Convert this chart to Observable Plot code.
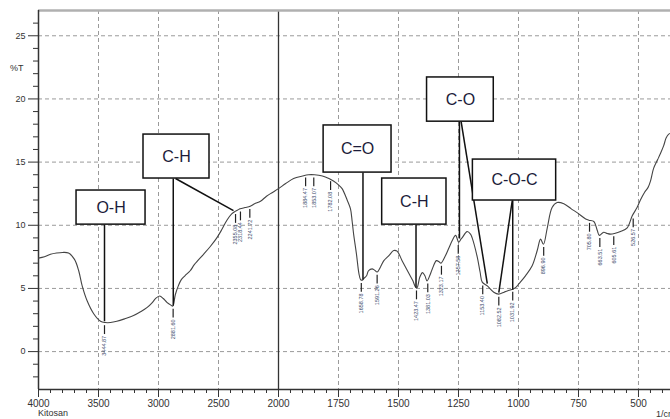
<!DOCTYPE html>
<html><head><meta charset="utf-8">
<script src="https://cdn.jsdelivr.net/npm/d3@7"></script>
<script src="https://cdn.jsdelivr.net/npm/@observablehq/plot@0.6"></script>
<style>
body{margin:0;background:#fff;font-family:"Liberation Sans",Arial,sans-serif;}
#chart{position:relative;width:670px;height:419px;overflow:hidden;}
#chart svg{overflow:hidden;}
.lbl{position:absolute;font-size:9px;color:#333;}
</style>
</head><body><div id="chart"></div>
<script>
// Spectrum: wavenumber (1/cm) and transmittance (%T)
const wavenumber = [4000,3950,3900,3850,3800,3750,3700,3665,3636,3594,3540,3483,3444,3400,3347,3280,3208,3150,3094,3050,3025,2990,2960,2930,2900,2881,2860,2835,2810,2780,2736,2700,2625,2570,2514,2470,2430,2390,2361,2340,2320,2280,2236,2200,2150,2100,2050,2000,1970,1937,1900,1875,1850,1817,1790,1771,1750,1735,1714,1700,1693,1687,1675,1665,1658,1651,1644,1633,1625,1610,1600,1589,1575,1561,1540,1520,1506,1485,1457,1440,1429,1423,1411,1400,1390,1381,1370,1360,1342,1330,1323,1304,1290,1276,1262,1249,1240,1235,1214,1200,1193,1172,1160,1151,1130,1103,1083,1060,1047,1031,1022,1010,999,971,943,922,908,896,880,860,839,811,780,756,720,707,686,672,663,645,630,617,600,575,547,526,506,492,475,460,450,437,420,408,395,385,375,362];
const transmittance = [7.4,7.5,7.7,7.8,7.85,7.8,7.3,6.4,5.2,4.0,3.0,2.4,2.3,2.3,2.4,2.6,2.85,3.15,3.5,3.9,4.2,4.4,4.2,3.9,3.7,3.6,4.5,5.2,5.7,6.0,6.4,6.9,7.7,8.3,9.0,9.7,10.4,10.9,11.1,11.2,11.3,11.4,11.5,11.7,11.9,12.3,12.6,12.9,13.3,13.7,13.9,14.0,14.0,13.9,13.7,13.5,13.2,12.9,12.0,11.3,10.3,9.3,7.7,6.2,5.7,5.65,5.8,6.0,6.4,6.55,6.45,6.3,6.7,7.2,7.6,8.0,7.95,7.2,6.2,5.6,5.1,5.05,5.9,6.25,6.0,5.6,6.0,6.5,7.2,7.1,7.0,7.6,8.2,8.8,9.2,8.65,8.9,9.0,9.5,9.3,9.0,7.5,6.3,5.5,5.2,4.7,4.55,4.7,4.8,4.9,4.95,5.1,5.35,6.0,6.8,8.0,8.9,8.5,9.8,11.4,11.8,11.7,11.3,11.0,10.5,10.4,10.3,9.6,9.2,9.45,9.35,9.3,9.35,9.5,9.8,10.75,11.4,12.0,12.6,13.0,13.5,14.5,15.2,15.7,16.3,16.9,17.2,17.3];

// Peak labels
const peakWn    = [3450,2878,2358,2317,2239,1887,1853,1783,1655,1589,1425,1378,1321,1251,1149,1082,1024,895,704,661,603,522];
const peakT     = [2.3,3.6,11.1,11.3,11.5,14.0,14.0,13.7,5.65,6.3,5.05,5.6,7.0,8.65,5.45,4.55,4.95,8.5,10.4,9.2,9.35,10.75];
const peakText  = ["3444.87","2881.60","2355.08","2318.44","2241.72","1884.47","1853.07","1782.08","1658.78","1591.26","1423.47","1381.03","1323.17","1257.58","1153.40","1082.52","1031.92","896.90","705.80","663.51","605.61","526.57"];

// Functional group boxes
const groupName = ["O-H","C-H","C=O","C-H","C-O","C-O-C"];
const boxWn1 = [3683,3125,1812,1568,1381,1190];
const boxWn2 = [3108,2575,1529,1300,1103,843];
const boxT1  = [12.75,17.18,17.9,13.7,21.7,15.2];
const boxT2  = [10.05,13.7,14.17,10.05,18.2,11.96];

// Leader lines from boxes to bands
const leadWn1 = [3450,2877,2858,1648,1427,1246,1239,1024,1026];
const leadT1  = [10.05,13.7,13.7,14.17,10.05,18.2,18.2,11.96,11.96];
const leadWn2 = [3450,2877,2375,1648,1427,1246,1130,1024,1082];
const leadT2  = [2.4,3.64,11.16,5.7,5.07,8.95,5.38,4.9,4.67];

// Axis ticks
const xMajor = [4000,3500,3000,2500,2000,1750,1500,1250,1000,750,500];
const xMinor = [3900,3800,3700,3600,3400,3300,3200,3100,2900,2800,2700,2600,2400,2300,2200,2100,1950,1900,1850,1800,1700,1650,1600,1550,1450,1400,1350,1300,1200,1150,1100,1050,950,900,850,800,700,650,600,550,450,400];
const xGrid = [3500,3000,2500,1750,1500,1250,1000,750,500];
const yMajor = [0,5,10,15,20,25];
const yMinor = [-2,-1,1,2,3,4,6,7,8,9,11,12,13,14,16,17,18,19,21,22,23,24,26];

// Spectrometer's split abscissa: 2x expansion below 2000 1/cm (piecewise linear d3 scale)
const split = d3.scaleLinear().domain([4000, 2000, 362]).range([0, 240, 633.1]);
const X = w => split(w);

const spectrum = wavenumber.map((w,i)=>({wn:w, t:transmittance[i]}));
const peaks = peakWn.map((w,i)=>({wn:w, t:peakT[i], label:peakText[i]}));
const boxes = groupName.map((n,i)=>({name:n, x1:boxWn1[i], x2:boxWn2[i], y1:boxT1[i], y2:boxT2[i]}));
const leads = leadWn1.map((w,i)=>({x1:w, y1:leadT1[i], x2:leadWn2[i], y2:leadT2[i]}));

const majorLabel = new Map(xMajor.map(w => [X(w), String(w)]));
const chart = Plot.plot({
  width: 670, height: 419,
  marginLeft: 38, marginRight: 0, marginTop: 10, marginBottom: 30,
  style: {fontFamily: "'Liberation Sans', Arial, sans-serif", background: "#fff", color: "#333"},
  x: {domain: [0, 633.1], range: [38, 671.1]},
  y: {domain: [-3, 27]},
  marks: [
    Plot.gridX({ticks: xGrid.map(X), stroke: "#9a9a9a", strokeOpacity: 1, strokeDasharray: "4,3"}),
    Plot.gridY({ticks: yMajor, stroke: "#9a9a9a", strokeOpacity: 1, strokeDasharray: "4,3"}),
    Plot.ruleX([X(2000)], {stroke: "#333", strokeWidth: 1.3}),
    Plot.ruleY([27], {stroke: "#b0b0b0", strokeWidth: 2.5}),
    Plot.ruleX([X(4000)], {stroke: "#333", strokeWidth: 1.5}),
    Plot.ruleY([-3], {stroke: "#333", strokeWidth: 1.5}),
    Plot.axisX({ticks: xMajor.map(X), tickSize: 8, tickPadding: 2, tickFormat: v => majorLabel.get(v) ?? "", fontSize: 10, stroke: "#333", fill: "#333", label: null}),
    Plot.axisX({ticks: xMinor.map(X), tickSize: 4, fill: "none", stroke: "#333", label: null}),
    Plot.axisY({ticks: yMajor, tickSize: 10, tickPadding: 3, tickFormat: v => String(v), fontSize: 9, stroke: "#333", fill: "#333", label: null}),
    Plot.axisY({ticks: yMinor, tickSize: 5, fill: "none", stroke: "#333", label: null}),
    Plot.line(spectrum, {x: d => X(d.wn), y: "t", curve: "catmull-rom", stroke: "#444", strokeWidth: 1.1}),
    Plot.ruleX(peaks, {x: d => X(d.wn), y1: d => d.t - 0.25, y2: d => d.t - 0.95, stroke: "#222", strokeWidth: 1.2}),
    Plot.text(peaks, {x: d => X(d.wn), y: d => d.t - 1.05, text: "label", rotate: -90, textAnchor: "end", fontSize: 5.5, fill: "#3a4a6a"}),
    Plot.link(leads, {x1: d => X(d.x1), y1: "y1", x2: d => X(d.x2), y2: "y2", stroke: "#111", strokeWidth: 1.5}),
    Plot.rect(boxes, {x1: d => X(d.x1), x2: d => X(d.x2), y1: "y1", y2: "y2", fill: "white", stroke: "#111", strokeWidth: 1.5}),
    Plot.text(boxes, {x: d => (X(d.x1) + X(d.x2)) / 2, y: d => (d.y1 + d.y2) / 2, text: "name", fontSize: 16, fill: "#1c1c3a"})
  ]
});
const el = document.getElementById("chart");
el.appendChild(chart);
const addLabel = (txt, left, top) => { const d = document.createElement("div"); d.className = "lbl"; d.textContent = txt; d.style.left = left + "px"; d.style.top = top + "px"; el.appendChild(d); };
addLabel("%T", 10, 63);
addLabel("Kitosan", 38, 408);
addLabel("1/cm", 656, 409);
</script>
</body></html>
